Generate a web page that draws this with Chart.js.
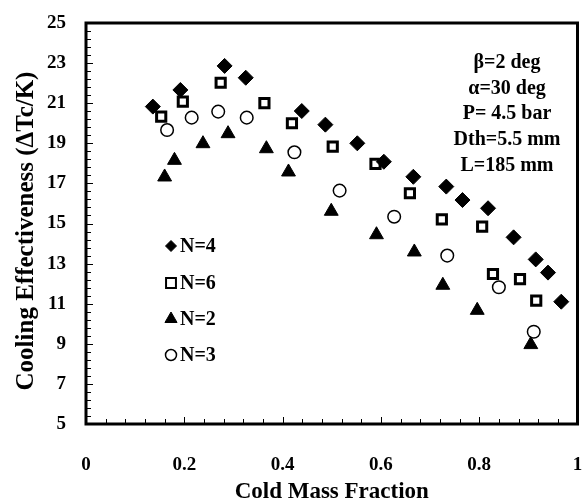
<!DOCTYPE html>
<html>
<head>
<meta charset="utf-8">
<script src="https://cdn.jsdelivr.net/npm/chart.js@4"></script>
<style>
  html, body { margin: 0; padding: 0; background: #fff; }
  canvas { display: block; }
</style>
</head>
<body>
<canvas id="effectiveness-chart" width="587" height="504"></canvas>
<script>
// cold mass fraction / cooling effectiveness
const n4X = [0.136, 0.192, 0.282, 0.325, 0.439, 0.487, 0.552, 0.606, 0.666, 0.733, 0.766, 0.818, 0.870, 0.915, 0.940, 0.967];
const n4Y = [20.83, 21.66, 22.86, 22.27, 20.61, 19.93, 19.0, 18.08, 17.33, 16.84, 16.17, 15.76, 14.31, 13.21, 12.55, 11.1];

const n6X = [0.153, 0.197, 0.274, 0.363, 0.419, 0.502, 0.589, 0.659, 0.724, 0.806, 0.828, 0.883, 0.916];
const n6Y = [20.33, 21.08, 22.02, 21.0, 20.0, 18.83, 17.97, 16.51, 15.21, 14.84, 12.48, 12.23, 11.15];

const n2X = [0.160, 0.180, 0.238, 0.289, 0.367, 0.412, 0.499, 0.591, 0.668, 0.726, 0.796, 0.905];
const n2Y = [17.32, 18.15, 18.98, 19.48, 18.73, 17.57, 15.61, 14.44, 13.58, 11.92, 10.67, 8.96];

const n3X = [0.165, 0.215, 0.269, 0.327, 0.424, 0.516, 0.627, 0.735, 0.840, 0.911];
const n3Y = [19.66, 20.28, 20.58, 20.28, 18.55, 16.64, 15.34, 13.4, 11.82, 9.6];

const xTickLabels = [0, 0.2, 0.4, 0.6, 0.8, 1];
const yTickLabels = [5, 7, 9, 11, 13, 15, 17, 19, 21, 23, 25];
const notes = ['β=2 deg', 'α=30 deg', 'P= 4.5 bar', 'Dth=5.5 mm', 'L=185 mm'];
const yTitle = 'Cooling Effectiveness (ΔTc/K)';

const SERIF = "'Liberation Serif', 'Times New Roman', serif";
const pts = (xs, ys) => xs.map((x, i) => ({ x: x, y: ys[i] }));

// inward tick marks + heavy frame like the original
const framePlugin = {
  id: 'frame',
  afterDatasetsDraw(chart) {
    const { ctx, chartArea: a, scales } = chart;
    ctx.save();
    ctx.strokeStyle = '#000';
    ctx.lineWidth = 1;
    const sub = 5;
    ctx.beginPath();
    for (let i = 0; i < yTickLabels.length; i++) {
      const v0 = yTickLabels[i];
      const v1 = yTickLabels[i + 1];
      for (let k = 0; k < (v1 === undefined ? 1 : sub); k++) {
        const v = v1 === undefined ? v0 : v0 + (v1 - v0) * k / sub;
        const y = Math.round(scales.y.getPixelForValue(v)) + 0.5;
        ctx.moveTo(a.left, y);
        ctx.lineTo(a.left + (k === 0 ? 7 : 5), y);
      }
    }
    for (let i = 0; i < xTickLabels.length; i++) {
      const v0 = xTickLabels[i];
      const v1 = xTickLabels[i + 1];
      for (let k = 0; k < (v1 === undefined ? 1 : sub); k++) {
        const v = v1 === undefined ? v0 : v0 + (v1 - v0) * k / sub;
        const x = Math.round(scales.x.getPixelForValue(v)) + 0.5;
        ctx.moveTo(x, a.bottom);
        ctx.lineTo(x, a.bottom - (k === 0 ? 7 : 5));
      }
    }
    ctx.stroke();
    ctx.lineWidth = 3;
    ctx.strokeRect(a.left, a.top, a.right - a.left, a.bottom - a.top);
    ctx.restore();
  }
};

// legend inside the plot, parameter block, y title (sits a bit low in the original)
const notesPlugin = {
  id: 'notes',
  afterDraw(chart) {
    const ctx = chart.ctx;
    ctx.save();
    ctx.fillStyle = '#000';
    ctx.font = 'bold 20px ' + SERIF;
    ctx.textBaseline = 'middle';

    const rows = [246, 283, 319, 355];
    const legendSizes = [5.5, 7, 7, 5.5];
    chart.data.datasets.forEach((ds, i) => {
      ctx.fillStyle = ds.backgroundColor;
      ctx.strokeStyle = ds.borderColor;
      ctx.lineWidth = ds.pointStyle === 'rect' ? 2 : ds.borderWidth;
      Chart.helpers.drawPoint(ctx, {
        pointStyle: ds.pointStyle, rotation: 0, radius: legendSizes[i],
        borderWidth: ctx.lineWidth
      }, 171, rows[i]);
      ctx.fillStyle = '#000';
      ctx.textAlign = 'left';
      ctx.fillText(ds.label, 180, rows[i] + 1);
    });

    ctx.textAlign = 'center';
    notes.forEach((t, i) => ctx.fillText(t, 507, 63 + i * 25.6));

    ctx.translate(27, 231);
    ctx.rotate(-Math.PI / 2);
    ctx.font = 'bold 25px ' + SERIF;
    ctx.fillText(yTitle, 0, 0);
    ctx.restore();
  }
};

const chart = new Chart(document.getElementById('effectiveness-chart').getContext('2d'), {
  type: 'scatter',
  data: {
    datasets: [
      { label: 'N=4', data: pts(n4X, n4Y), pointStyle: 'rectRot', pointRadius: 7.5,
        backgroundColor: '#000', borderColor: '#000', borderWidth: 1 },
      { label: 'N=6', data: pts(n6X, n6Y), pointStyle: 'rect', pointRadius: 6.5,
        backgroundColor: '#fff', borderColor: '#000', borderWidth: 3 },
      { label: 'N=2', data: pts(n2X, n2Y), pointStyle: 'triangle', pointRadius: 8,
        backgroundColor: '#000', borderColor: '#000', borderWidth: 1 },
      { label: 'N=3', data: pts(n3X, n3Y), pointStyle: 'circle', pointRadius: 6.3,
        backgroundColor: '#fff', borderColor: '#000', borderWidth: 1.5 }
    ]
  },
  options: {
    responsive: false,
    animation: false,
    devicePixelRatio: 1,
    clip: false,
    layout: { padding: { left: 0, right: 2, top: 23, bottom: 0 } },
    plugins: { legend: { display: false }, tooltip: { enabled: false } },
    scales: {
      x: {
        type: 'linear', min: 0, max: 1,
        afterBuildTicks: s => { s.ticks = xTickLabels.map(v => ({ value: v })); },
        afterFit: s => { s.height = 80; },
        // tickLength used only as label offset (grid itself hidden)
        grid: { display: false, drawTicks: true, tickLength: 33 },
        border: { display: false },
        ticks: { color: '#000', padding: -3, maxRotation: 0,
          font: { family: SERIF, size: 19, weight: 'bold' },
          callback: v => String(v) },
        title: { display: true, text: 'Cold Mass Fraction', color: '#000',
          font: { family: SERIF, size: 23, weight: 'bold', lineHeight: 1 },
          padding: { top: 0, bottom: 0 } }
      },
      y: {
        type: 'linear', min: 5, max: 25,
        afterBuildTicks: s => { s.ticks = yTickLabels.map(v => ({ value: v })); },
        afterFit: s => { s.width = 86; },
        grid: { display: false, drawTicks: true, tickLength: 20 },
        border: { display: false },
        ticks: { color: '#000', padding: 0,
          font: { family: SERIF, size: 19, weight: 'bold' } },
        title: { display: false }
      }
    }
  },
  plugins: [framePlugin, notesPlugin]
});
</script>
</body>
</html>
